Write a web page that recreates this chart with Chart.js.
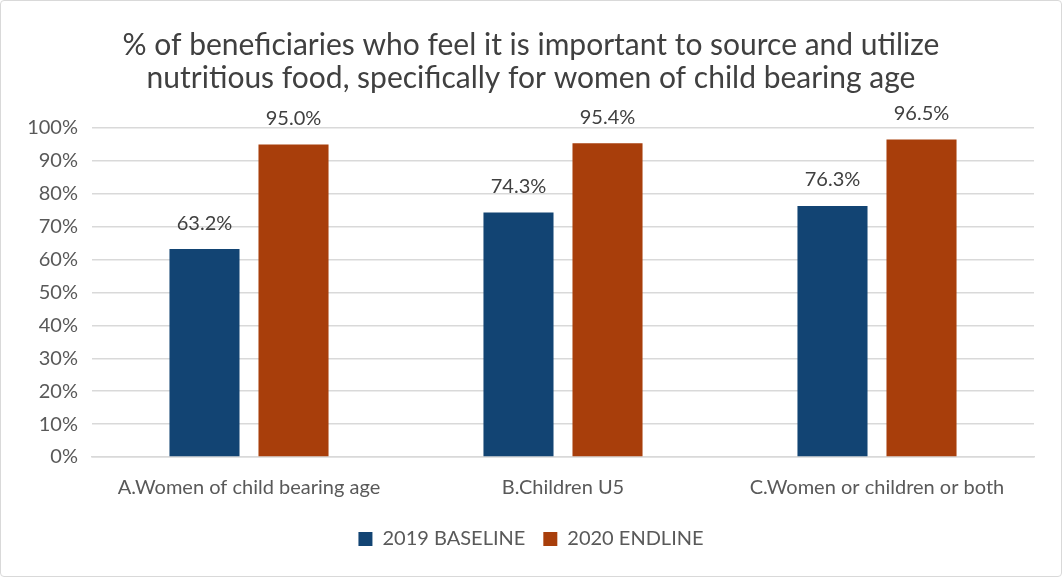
<!DOCTYPE html>
<html>
<head>
<meta charset="utf-8">
<script src="https://cdn.jsdelivr.net/npm/chart.js@4"></script>
<style>
    html, body { margin: 0; padding: 0; background: #fff; }
    #wrap {
        position: relative;
        width: 1060px;
        height: 575px;
        border: 1px solid #d9d9d9;
        border-radius: 4px;
    }
</style>
</head>
<body>
<div id="wrap"><canvas id="chart"></canvas></div>
<script>
// 데이터
const categories = ['A.Women of child bearing age', 'B.Children U5', 'C.Women or children or both'];
const baseline2019 = [63.2, 74.3, 76.3];
const endline2020 = [95.0, 95.4, 96.5];
const seriesNames = ['2019 BASELINE', '2020 ENDLINE'];
const titleLines = [
    '% of beneficiaries who feel it is important to source and utilize',
    'nutritious food, specifically for women of child bearing age'
];

const FONT = "'Lato', 'Open Sans', sans-serif";
const TEXT = '#595959';

// 막대 위 값 표시
const valueLabels = {
    id: 'valueLabels',
    afterDatasetsDraw(chart) {
        const ctx = chart.ctx;
        ctx.save();
        ctx.font = '20px ' + FONT;
        ctx.fillStyle = '#404040';
        ctx.textAlign = 'center';
        ctx.textBaseline = 'bottom';
        chart.data.datasets.forEach((ds, i) => {
            chart.getDatasetMeta(i).data.forEach((bar, j) => {
                ctx.fillText(ds.data[j].toFixed(1) + '%', bar.x, bar.y - 16);
            });
        });
        ctx.restore();
    }
};

new Chart(document.getElementById('chart'), {
    type: 'bar',
    data: {
        labels: categories,
        datasets: [{
            label: seriesNames[0],
            data: baseline2019,
            backgroundColor: '#124473'
        }, {
            label: seriesNames[1],
            data: endline2020,
            backgroundColor: '#A83E0B'
        }]
    },
    options: {
        responsive: true,
        maintainAspectRatio: false,
        animation: false,
        categoryPercentage: 0.567,
        barPercentage: 0.787,
        layout: {
            padding: { left: 18, right: 18, top: 6, bottom: 17 }
        },
        plugins: {
            title: {
                display: true,
                text: titleLines,
                color: '#404040',
                font: { family: FONT, size: 30, weight: 'normal', lineHeight: 1.1 },
                padding: { top: 22, bottom: 33 }
            },
            legend: {
                position: 'bottom',
                labels: {
                    color: TEXT,
                    font: { family: FONT, size: 20 },
                    boxWidth: 14,
                    boxHeight: 14,
                    padding: 18
                }
            },
            tooltip: { enabled: false }
        },
        scales: {
            y: {
                min: 0,
                max: 100,
                ticks: {
                    stepSize: 10,
                    color: TEXT,
                    font: { family: FONT, size: 20 },
                    padding: 14,
                    callback: v => v + '%'
                },
                grid: { color: '#d9d9d9', lineWidth: 1.5, drawTicks: false },
                border: { display: false },
                afterFit: s => { s.width = 73; }
            },
            yRight: {
                position: 'right',
                display: true,
                ticks: { display: false },
                grid: { display: false },
                border: { display: false },
                afterFit: s => { s.width = 9; }
            },
            x: {
                ticks: {
                    color: TEXT,
                    font: { family: FONT, size: 20 },
                    padding: 11
                },
                grid: { display: false },
                border: { color: '#d9d9d9', width: 1.5 }
            }
        }
    },
    plugins: [valueLabels]
});
</script>
</body>
</html>
